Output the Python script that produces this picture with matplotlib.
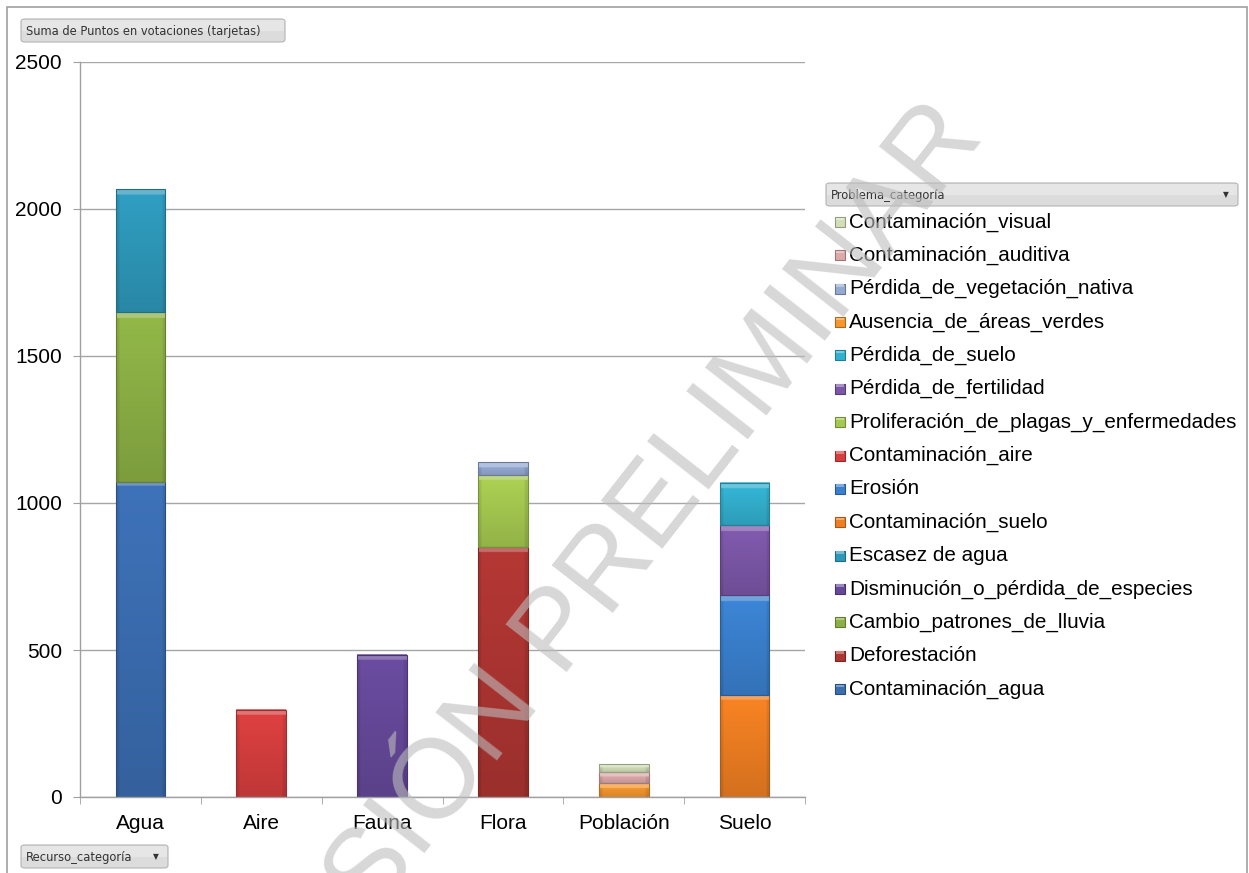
import numpy as np
import matplotlib
matplotlib.use("Agg")
import matplotlib.pyplot as plt
from matplotlib.patches import FancyBboxPatch, Rectangle
from matplotlib.colors import to_rgb

# ---------------- data ----------------
categories = ["Agua", "Aire", "Fauna", "Flora", "Población", "Suelo"]

series_names = [
    "Contaminación_agua",
    "Deforestación",
    "Cambio_patrones_de_lluvia",
    "Disminución_o_pérdida_de_especies",
    "Escasez de agua",
    "Contaminación_suelo",
    "Erosión",
    "Contaminación_aire",
    "Proliferación_de_plagas_y_enfermedades",
    "Pérdida_de_fertilidad",
    "Pérdida_de_suelo",
    "Ausencia_de_áreas_verdes",
    "Pérdida_de_vegetación_nativa",
    "Contaminación_auditiva",
    "Contaminación_visual",
]

contaminacion_agua = [1072, 0, 0, 0, 0, 0]
deforestacion = [0, 0, 0, 850, 0, 0]
cambio_patrones_lluvia = [578, 0, 0, 0, 0, 0]
disminucion_especies = [0, 0, 483, 0, 0, 0]
escasez_agua = [418, 0, 0, 0, 0, 0]
contaminacion_suelo = [0, 0, 0, 0, 0, 347]
erosion = [0, 0, 0, 0, 0, 340]
contaminacion_aire = [0, 297, 0, 0, 0, 0]
proliferacion_plagas = [0, 0, 0, 245, 0, 0]
perdida_fertilidad = [0, 0, 0, 0, 0, 238]
perdida_suelo = [0, 0, 0, 0, 0, 143]
ausencia_areas_verdes = [0, 0, 0, 0, 48, 0]
perdida_vegetacion = [0, 0, 0, 44, 0, 0]
contaminacion_auditiva = [0, 0, 0, 0, 37, 0]
contaminacion_visual = [0, 0, 0, 0, 27, 0]

series_values = [
    contaminacion_agua, deforestacion, cambio_patrones_lluvia,
    disminucion_especies, escasez_agua, contaminacion_suelo, erosion,
    contaminacion_aire, proliferacion_plagas, perdida_fertilidad,
    perdida_suelo, ausencia_areas_verdes, perdida_vegetacion,
    contaminacion_auditiva, contaminacion_visual,
]

yticks = [0, 500, 1000, 1500, 2000, 2500]

colors = [
    "#3B6DB1", "#AD3532", "#8CB045", "#66499A", "#2E98BA",
    "#EE7E22", "#3A80CE", "#D63E3E", "#A5C950", "#7C57A8",
    "#33B0CF", "#F5962E", "#95AAD3", "#DDA9A9", "#D2DEB8",
]

# ---------------- figure ----------------
W, H = 1249, 873
fig = plt.figure(figsize=(W / 100, H / 100), dpi=100)
fig.patch.set_facecolor("white")

def fx(px):
    return px / W

def fy(py):
    return 1 - py / H

ax_l, ax_r, ax_t, ax_b = 80, 805, 62, 797
ax = fig.add_axes([fx(ax_l), fy(ax_b), fx(ax_r - ax_l), (ax_b - ax_t) / H])

FONT = ["Liberation Sans", "DejaVu Sans"]
x = np.arange(len(categories))
bw = 0.41
bottom = np.zeros(len(categories))
bar_groups = []
for name, vals, col in zip(series_names, series_values, colors):
    vals = np.array(vals, dtype=float)
    bars = ax.bar(x, vals, bw, bottom=bottom, color=col, label=name,
                  zorder=2, linewidth=0)
    bar_groups.append((bars, col))
    bottom = bottom + vals

def shade(c, f):
    c = np.array(to_rgb(c))
    if f >= 1:
        return c + (1 - c) * (f - 1)
    return c * f

# gradient / bevel overlay for each segment
for bars, col in bar_groups:
    for p in bars:
        h = p.get_height()
        if h <= 0:
            continue
        x0, y0, w = p.get_x(), p.get_y(), p.get_width()
        ny, nx = 200, 60
        t = np.linspace(0, 1, ny)[:, None]
        s = np.linspace(0, 1, nx)[None, :]
        fac = 1.05 - 0.16 * t
        edge = np.minimum(s, 1 - s)
        fac = fac - 0.08 * (edge < 0.06)
        base = np.array(to_rgb(col))
        img = np.clip(base[None, None, :] * fac[:, :, None], 0, 1)
        hpx = h * (ax_b - ax_t) / 2500
        nb = int(min(ny * 6 / max(hpx, 1), ny * 0.4))
        if nb > 0:
            img[:nb, :, :] = np.clip(base + (1 - base) * 0.28, 0, 1)
        img = np.broadcast_to(img, (ny, nx, 3)).copy()
        ax.imshow(img, extent=(x0, x0 + w, y0, y0 + h), aspect="auto",
                  zorder=2.2, interpolation="bilinear")
        ax.add_patch(Rectangle((x0, y0), w, h, fill=False,
                               edgecolor=shade(col, 0.72), linewidth=0.8,
                               zorder=2.5))

ax.set_xlim(-0.5, len(categories) - 0.5)
ax.set_ylim(0, 2500)
ax.set_yticks(yticks)
ax.set_yticklabels([str(v) for v in yticks], fontsize=15, family=FONT)
ax.set_xticks(x)
ax.set_xticklabels(categories, fontsize=15, family=FONT)
ax.set_xticks(np.arange(-0.5, len(categories), 1.0), minor=True)
ax.tick_params(axis="x", which="major", length=0, pad=12)
ax.tick_params(axis="x", which="minor", length=5, color="#a0a0a0")
ax.tick_params(axis="y", length=5, color="#a0a0a0", pad=8)
ax.yaxis.grid(True, color="#a6a6a6", linewidth=1, zorder=0)
ax.set_axisbelow(True)
for sp in ["top", "right"]:
    ax.spines[sp].set_visible(False)
for sp in ["left", "bottom"]:
    ax.spines[sp].set_color("#a0a0a0")
    ax.spines[sp].set_linewidth(1)

# ---------------- legend (manual) ----------------
leg_top = 222
leg_step = 33.36
for i, (name, col) in enumerate(zip(series_names[::-1], colors[::-1])):
    yc = leg_top + i * leg_step
    fig.add_artist(Rectangle((fx(835), fy(yc + 5)), 10 / W, 10 / H,
                             transform=fig.transFigure, facecolor=col,
                             edgecolor=shade(col, 0.7), linewidth=0.8))
    fig.add_artist(Rectangle((fx(836), fy(yc - 2)), 8 / W, 2.5 / H,
                             transform=fig.transFigure,
                             facecolor=shade(col, 1.35), linewidth=0))
    fig.text(fx(849), fy(yc), name, fontsize=14.9, family=FONT,
             ha="left", va="center", color="#000000")

# ---------------- field buttons ----------------
def button(x0, y0, x1, y1, label, arrow=False):
    fig.add_artist(FancyBboxPatch((fx(x0), fy(y1)), (x1 - x0) / W, (y1 - y0) / H,
                                  boxstyle="round,pad=0,rounding_size=0.003",
                                  transform=fig.transFigure,
                                  facecolor="#dcdcdc", edgecolor="#b4b4b4",
                                  linewidth=0.8))
    fig.add_artist(Rectangle((fx(x0 + 1), fy((y0 + y1) / 2)), (x1 - x0 - 2) / W,
                             ((y1 - y0) / 2 - 1) / H, transform=fig.transFigure,
                             facecolor="#e6e6e6", linewidth=0))
    fig.text(fx(x0 + 5), fy((y0 + y1) / 2 + 0.5), label, fontsize=8.3,
             family=["DejaVu Sans"], ha="left", va="center", color="#333333")
    if arrow:
        fig.text(fx(x1 - 12), fy((y0 + y1) / 2 + 0.5), "▼", fontsize=5.5,
                 family=["DejaVu Sans"], ha="center", va="center",
                 color="#333333")

button(21, 19, 285, 42, "Suma de Puntos en votaciones (tarjetas)")
button(21, 845, 168, 868, "Recurso_categoría", arrow=True)
button(826, 183, 1238, 206, "Problema_categoría", arrow=True)

# ---------------- outer frame ----------------
fig.add_artist(Rectangle((fx(7), fy(880)), (1247 - 7) / W, (880 - 7) / H,
                         transform=fig.transFigure, fill=False,
                         edgecolor="#a0a0a0", linewidth=1.2))

# ---------------- watermark ----------------
fig.text(fx(607), fy(620), "VERSIÓN PRELIMINAR", fontsize=81, family=FONT,
         rotation=52, rotation_mode="anchor", ha="center", va="baseline",
         color="#bdbdbd", alpha=0.6, zorder=10)

fig.savefig("out.png", dpi=100)
